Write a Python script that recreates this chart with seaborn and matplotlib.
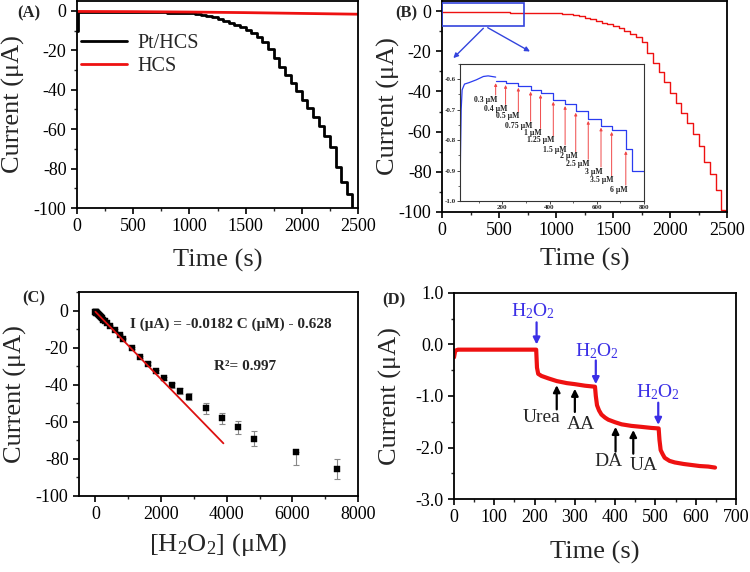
import matplotlib
matplotlib.use('Agg')
import matplotlib.pyplot as plt
import seaborn as sns
import pandas as pd
from matplotlib.patches import Rectangle
from matplotlib.ticker import MultipleLocator

# ---------------- data ----------------
# (A) chronoamperometry, Pt/HCS (staircase) and HCS
a_pt_time = [3, 8, 100, 200, 300, 400, 500, 600, 700, 800, 900, 950,
             1000, 1050, 1100, 1150, 1200, 1250, 1300, 1350, 1400, 1450,
             1500, 1550, 1600, 1650, 1700, 1750, 1800, 1850, 1900, 1950,
             2000, 2050, 2100, 2150, 2200, 2250, 2300, 2350, 2400, 2450, 2480]
a_pt_current = [-10.0, -0.5, -0.5, -0.55, -0.6, -0.65, -0.7, -0.75, -0.8, -0.9, -0.95, -1.05,
                -1.2, -1.5, -2.0, -2.6, -3.3, -4.2, -5.0, -6.0, -7.0, -8.2,
                -9.5, -11.2, -13.5, -16.0, -19.5, -24.0, -28.5, -32.5, -36.5, -40.5,
                -45.0, -49.5, -54.0, -58.5, -63.5, -69.0, -79.0, -87.0, -93.0, -101.0, -103.0]
a_hcs_time = [0, 500, 1000, 1500, 2000, 2500]
a_hcs_current = [-0.3, -0.4, -0.6, -0.9, -1.3, -1.7]

# (B) Pt/HCS staircase
b_time = [0, 200, 400, 600, 800, 900, 950,
          1000, 1050, 1100, 1150, 1200, 1250, 1300, 1350, 1400, 1450,
          1500, 1550, 1600, 1650, 1700, 1750, 1800, 1850, 1900, 1950,
          2000, 2050, 2100, 2150, 2200, 2250, 2300, 2350, 2400, 2450, 2480]
b_current = [-0.6, -0.6, -0.65, -0.75, -0.9, -0.95, -1.0,
             -1.0, -1.25, -1.6, -2.1, -2.7, -3.3, -4.0, -4.8, -5.7, -6.6,
             -7.6, -8.6, -9.8, -11.2, -13.0, -15.5, -21.0, -26.0, -30.5, -35.5,
             -41.0, -46.0, -50.5, -55.5, -61.0, -67.0, -75.0, -81.0, -89.0, -99.0, -103.0]

# (B) inset: low concentration additions
inset_rise_t = [21, 23, 26, 30, 40, 60, 90, 120, 140, 172]
inset_rise_i = [-1.0, -0.85, -0.70, -0.635, -0.616, -0.611, -0.602, -0.591, -0.589, -0.593]
inset_step_t = [172, 214, 268, 320, 362, 416, 466, 511, 564, 618, 663, 723, 748, 800]
inset_step_i = [-0.607, -0.613, -0.622, -0.635, -0.645, -0.668, -0.682, -0.704,
                -0.731, -0.753, -0.767, -0.830, -0.900, -0.900]
inset_add_labels = ['0.3 μM', '0.4 μM', '0.5 μM', '0.75 μM', '1 μM', '1.25 μM',
                    '1.5 μM', '2 μM', '2.5 μM', '3 μM', '3.5 μM', '6 μM']
inset_tail_i = [-0.652, -0.683, -0.707, -0.738, -0.762, -0.786, -0.816,
                -0.838, -0.863, -0.888, -0.917, -0.948]

# (C) calibration
c_conc = [0, 5, 15, 30, 50, 75, 100, 130, 160, 200, 240, 290, 340,
          439, 592, 745, 847, 1102, 1357, 1601, 1846, 2091, 2346, 2591, 2856,
          3356, 3845, 4345, 4845, 6100, 7354]
c_current = [-0.6, -0.7, -0.9, -1.2, -1.5, -2.0, -2.5, -3.0, -3.6, -4.2, -5.0, -5.9, -6.8,
             -8.3, -10.5, -13.0, -15.2, -20.3, -25.0, -28.7, -32.7, -36.6, -40.3, -43.5, -46.5,
             -52.8, -58.0, -62.8, -69.0, -76.5, -85.3]
c_err_low = [0.2] * 13 + [0.3, 0.3, 0.4, 0.4, 0.5, 0.6, 0.7, 0.8, 0.9, 1.2, 1.5, 1.8,
                          2.8, 3.0, 3.5, 4.2, 7.0, 5.3]
c_err_high = [0.2] * 13 + [0.3, 0.3, 0.4, 0.4, 0.5, 0.6, 0.7, 0.8, 0.9, 1.2, 1.5, 1.8,
                           2.8, 3.0, 3.5, 4.2, 0.0, 5.3]
fit_slope = -0.0182
fit_intercept = -0.628
fit_range = [0, 3900]

# (D) selectivity
d_time = [0, 3, 10, 100, 204, 206, 209, 217, 235, 255, 280, 300, 325, 350,
          352, 355, 360, 366, 375, 383, 400, 416, 440, 466, 490, 508,
          510, 513, 518, 523, 535, 548, 570, 590, 610, 631, 648]
d_current = [-0.25, -0.12, -0.10, -0.10, -0.10, -0.45, -0.57, -0.61, -0.66, -0.71, -0.75, -0.77, -0.80, -0.82,
             -1.00, -1.18, -1.28, -1.36, -1.42, -1.46, -1.51, -1.55, -1.58, -1.60, -1.62, -1.63,
             -1.85, -2.05, -2.13, -2.20, -2.26, -2.29, -2.32, -2.34, -2.36, -2.37, -2.39]
h2o2_t = [205, 352, 507]
h2o2_text_t = [197, 354, 505]
h2o2_text_y = [0.64, -0.12, -0.93]
h2o2_tail_y = [0.43, -0.31, -1.13]
h2o2_head_y = [0.0, -0.77, -1.56]
interf_names = ['Urea', 'AA', 'DA', 'UA']
interf_t = [255, 300, 401, 445]
interf_tail_y = [-1.26, -1.31, -2.08, -2.12]
interf_head_y = [-0.79, -0.86, -1.60, -1.66]
interf_text_t = [217, 316, 383, 472]
interf_text_y = [-1.42, -1.56, -2.27, -2.34]

# ---------------- style ----------------
sns.set_theme(style='ticks')
plt.rcParams['font.family'] = ['Liberation Serif', 'DejaVu Serif']
plt.rcParams['mathtext.fontset'] = 'custom'
plt.rcParams['mathtext.rm'] = 'Liberation Serif'
plt.rcParams['mathtext.it'] = 'Liberation Serif:italic'
plt.rcParams['mathtext.bf'] = 'Liberation Serif:bold'
plt.rcParams['axes.unicode_minus'] = False
plt.rcParams['axes.linewidth'] = 1.3
plt.rcParams['axes.edgecolor'] = 'black'

RED = '#ee1111'
BLUE_D = '#3b2fe6'
LABEL_FS = 19
TICK_FS = 13

fig = plt.figure(figsize=(7.5, 5.72), dpi=100)
W, H = 750.0, 572.0

def add_ax(l, r, t, b):
    return fig.add_axes([l / W, (H - b) / H, (r - l) / W, (b - t) / H])

def style_ax(ax, xmaj, xmin, ymaj, ymin):
    ax.xaxis.set_major_locator(MultipleLocator(xmaj))
    ax.xaxis.set_minor_locator(MultipleLocator(xmin))
    ax.yaxis.set_major_locator(MultipleLocator(ymaj))
    ax.yaxis.set_minor_locator(MultipleLocator(ymin))
    ax.tick_params(which='major', direction='out', length=4.5, width=1.2,
                   labelsize=TICK_FS, colors='black', top=False, right=False, pad=3)
    ax.tick_params(which='minor', direction='out', length=2.5, width=1.0, top=False, right=False)
    for s in ax.spines.values():
        s.set_visible(True)
        s.set_linewidth(1.3)
        s.set_color('black')
    ax.grid(False)

# ---------- (A) ----------
axA = add_ax(77, 358, 1, 208)
sns.lineplot(x=a_pt_time, y=a_pt_current, ax=axA, color='black', lw=2.0,
             drawstyle='steps-post', estimator=None, sort=False, label='Pt/HCS')
sns.lineplot(x=a_hcs_time, y=a_hcs_current, ax=axA, color=RED, lw=2.0,
             estimator=None, sort=False, label='HCS')
axA.set_xlim(0, 2500)
axA.set_ylim(-100, 5)
style_ax(axA, 500, 250, 20, 10)
axA.set_xlabel('Time (s)', fontsize=LABEL_FS)
axA.set_ylabel('Current (μA)', fontsize=LABEL_FS)
axA.xaxis.set_label_coords(0.5, -0.2)
axA.yaxis.set_label_coords(-0.185, 0.5)
axA.legend(frameon=False, loc='upper left', bbox_to_anchor=(0.0, 0.86),
           fontsize=14.5, handlelength=2.3, labelspacing=0.2, borderaxespad=0,
           borderpad=0.2, handletextpad=0.5)

# ---------- (B) ----------
axB = add_ax(442, 727, 1, 212)
sns.lineplot(x=b_time, y=b_current, ax=axB, color=RED, lw=1.0,
             drawstyle='steps-post', estimator=None, sort=False)
axB.set_xlim(0, 2500)
axB.set_ylim(-100, 5)
style_ax(axB, 500, 250, 20, 10)
axB.set_xlabel('Time (s)', fontsize=LABEL_FS)
axB.set_ylabel('Current (μA)', fontsize=LABEL_FS)
axB.xaxis.set_label_coords(0.5, -0.17)
axB.yaxis.set_label_coords(-0.147, 0.5)
axB.add_patch(Rectangle((0, -7.3), 723, 11.1, fill=False, edgecolor='#3344dd', lw=1.2, zorder=5))
for end in [(82, -24.4), (793, -20.8)]:
    axB.annotate('', xy=end, xytext=(380, -7.6),
                 arrowprops=dict(arrowstyle='-|>', color='#3344dd', lw=1.0, mutation_scale=7))

# inset
axI = add_ax(460, 644, 64, 201)
sns.lineplot(x=inset_rise_t, y=inset_rise_i, ax=axI, color='#2a3cf0', lw=0.9,
             estimator=None, sort=False)
sns.lineplot(x=inset_step_t, y=inset_step_i, ax=axI, color='#2a3cf0', lw=0.9,
             drawstyle='steps-post', estimator=None, sort=False)
axI.set_xlim(21, 800)
axI.set_ylim(-1.0, -0.55)
axI.set_xticks([200, 400, 600, 800])
axI.set_xticklabels(['200', '400', '600', '800'], fontweight='bold', fontsize=5)
axI.set_yticks([-1.0, -0.9, -0.8, -0.7, -0.6])
axI.set_yticklabels(['-1.0', '-0.9', '-0.8', '-0.7', '-0.6'], fontweight='bold', fontsize=5)
axI.xaxis.set_minor_locator(MultipleLocator(100))
axI.yaxis.set_minor_locator(MultipleLocator(0.05))
axI.tick_params(which='major', direction='out', length=2, width=0.6, pad=1, top=False, right=False)
axI.tick_params(which='minor', direction='out', length=1.2, width=0.5, top=False, right=False)
for s in axI.spines.values():
    s.set_linewidth(0.8)
    s.set_color('#333333')
axI.set_xlabel('')
axI.set_ylabel('')
axI.grid(False)
for k, lab in enumerate(inset_add_labels):
    t = inset_step_t[k]
    head = inset_step_i[k] - 0.006
    tail = inset_tail_i[k]
    axI.annotate('', xy=(t, head), xytext=(t, tail),
                 arrowprops=dict(arrowstyle='-|>', color='#f04848', lw=0.7,
                                 mutation_scale=4, shrinkA=0, shrinkB=0))
    axI.text(t + 6, tail - 0.002, lab, ha='right', va='top', fontsize=5.6,
             fontweight='bold', color='#222222')

# ---------- (C) ----------
axC = add_ax(79, 358, 292, 496)
axC.errorbar(c_conc, c_current, yerr=[c_err_low, c_err_high], fmt='none',
             ecolor='#888888', elinewidth=0.8, capsize=2.2, capthick=0.8, zorder=2)
sns.scatterplot(x=c_conc, y=c_current, ax=axC, marker='s', s=16, color='black',
                edgecolor='black', linewidth=0.3, zorder=3)
sns.lineplot(x=fit_range, y=[fit_slope * v + fit_intercept for v in fit_range], ax=axC,
             color='#dd1111', lw=1.3, estimator=None, sort=False, zorder=4)
axC.set_xlim(-500, 8000)
axC.set_ylim(-100, 10)
style_ax(axC, 2000, 1000, 20, 10)
axC.set_xlabel('[H$_2$O$_2$] (μM)', fontsize=LABEL_FS)
axC.set_ylabel('Current (μA)', fontsize=LABEL_FS)
axC.xaxis.set_label_coords(0.5, -0.17)
axC.yaxis.set_label_coords(-0.186, 0.5)
axC.text(1050, -7.2, f'I (μA) = {fit_slope} C (μM) - {abs(fit_intercept)}', fontsize=11,
         fontweight='bold', ha='left', va='center')
axC.text(3600, -30, 'R²= 0.997', fontsize=11, fontweight='bold', ha='left', va='center')

# ---------- (D) ----------
axD = add_ax(454, 736, 293, 499)
sns.lineplot(x=d_time, y=d_current, ax=axD, color=RED, lw=3.0,
             estimator=None, sort=False)
axD.set_xlim(0, 700)
axD.set_ylim(-3.0, 1.0)
style_ax(axD, 100, 50, 1.0, 0.5)
axD.yaxis.set_major_formatter(matplotlib.ticker.FormatStrFormatter('%.1f'))
axD.set_xlabel('Time (s)', fontsize=LABEL_FS)
axD.set_ylabel('Current (μA)', fontsize=LABEL_FS)
axD.xaxis.set_label_coords(0.5, -0.205)
axD.yaxis.set_label_coords(-0.184, 0.5)
for k in range(len(h2o2_t)):
    axD.text(h2o2_text_t[k], h2o2_text_y[k], 'H$_2$O$_2$', color=BLUE_D, fontsize=14,
             ha='center', va='center')
    axD.annotate('', xy=(h2o2_t[k], h2o2_head_y[k]), xytext=(h2o2_t[k], h2o2_tail_y[k]),
                 arrowprops=dict(arrowstyle='-|>', color=BLUE_D, lw=1.6, mutation_scale=10,
                                 shrinkA=0, shrinkB=0))
for k, name in enumerate(interf_names):
    axD.annotate('', xy=(interf_t[k], interf_head_y[k]), xytext=(interf_t[k], interf_tail_y[k]),
                 arrowprops=dict(arrowstyle='-|>', color='black', lw=1.6, mutation_scale=10,
                                 shrinkA=0, shrinkB=0))
    axD.text(interf_text_t[k], interf_text_y[k], name, fontsize=14, ha='center', va='center')

# panel letters
fig.text(17 / W, 1 - 13 / H, '(A)', fontsize=12, fontweight='bold', va='center', ha='left')
fig.text(395 / W, 1 - 13 / H, '(B)', fontsize=12, fontweight='bold', va='center', ha='left')
fig.text(22 / W, 1 - 298 / H, '(C)', fontsize=12, fontweight='bold', va='center', ha='left')
fig.text(382 / W, 1 - 300 / H, '(D)', fontsize=12, fontweight='bold', va='center', ha='left')

fig.savefig('out.png', dpi=100)
